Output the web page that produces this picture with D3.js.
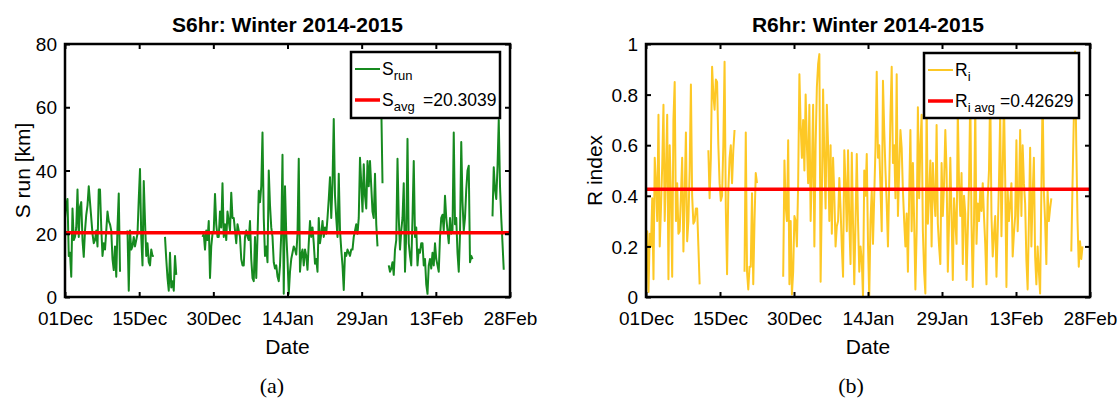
<!DOCTYPE html>
<html>
<head>
<meta charset="utf-8">
<script src="https://cdn.jsdelivr.net/npm/d3@7"></script>
<style>
  body { margin: 0; background: #fff; }
  svg { display: block; }
  text { font-family: "Liberation Sans", Arial, sans-serif; fill: #000; }
</style>
</head>
<body>
<svg id="fig" width="1118" height="399"></svg>
<script>
// Winter 2014-2015, 6-hourly samples starting 01 Dec 2014 00:00 (null = no data)
const seasonStart = Date.UTC(2014, 11, 1);
const seasonEnd = Date.UTC(2015, 1, 28);
const stepHours = 6;

const dateTickLabels = ["01Dec", "15Dec", "30Dec", "14Jan", "29Jan", "13Feb", "28Feb"];
const sRunTicks = [0, 20, 40, 60, 80];
const rIndexTicks = [0, 0.2, 0.4, 0.6, 0.8, 1];

const sRun = [
  25, 29, 31, 13, 14, 6.4, 28, 18, 19, 22,
  34, 19, 28.5, 30, 18, 12.7, 21, 26, 29, 35,
  30, 25, 20, 17, 18, 21, 16, 34, 34, 22,
  13, 17, 15, 21, 27, 24, 23, 21, 12, 8.5,
  16, 6.4, 22, 32.7, 8, null, null, null, null, null,
  21, 2, 21, 15, 16, 19, 16, 18, 20, 31,
  40.5, 19, 10, 36.7, 24, 13, 17, 11, 10, 15,
  13, 13, null, null, null, null, null, null, null, null,
  19, 12, 6, 2, 14, 3, 5, 2, 13, 7,
  null, null, null, null, null, null, null, null, null, null,
  null, null, null, null, null, null, null, null, null, null,
  19, 20, 15, 21, 18, 24, 6, 16, 20, 21,
  32.6, 23, 19, 19, 27, 22, 36, 19, 23, 18,
  27, 24, 21, 33, 25, 25, 21, 17, 23, 21,
  19, 12, 10, 10, 19, 21, 19, 18, 24, 12,
  6, 5, 19, 6, 19, 33.6, 30, 35, 52, 25,
  13, 16, 11, 40, 29, 22, 19, 11, 9, 10,
  6.5, 5, 10, 20, 45, 1, 35, 20, 12, 1,
  8, 12, 14, 16, 15, 13.4, 20, 43.7, 8, 13.4,
  15, 10, 15, 13, 8.6, 17, 24, 19, 22, 17,
  10.5, 12, 8, 25, 17, 20, 24, 19, 22, 20,
  25, 31, 37.9, 25, 36, 56.3, 32, 25, 19, 39,
  21, 15, 10, 2.2, 14, 13, 15, 14, 13, 15,
  15, 19, 21, 23, 20, 25, 44, 36, 27, 42,
  32, 28, 43, 35, 43, 35, 27, 25, 39, 23,
  16, null, null, 61, 36, null, null, null, null, 10,
  8, 9, 11, 7, 15, 18, 43.7, 25, 15, 21,
  25, 36, 8, 20, 50, 17, 13, 10, 25, 43,
  19, 22, 10, 15, 14, 17, 17, 10, 12, 4,
  1, 10, 12, 9, 14, 10, 17, 12, 10, 8,
  19, 25, 26, 21, 32, 25, 21, 17, 25, 20,
  21, 52, 23, 25, 14, 8, 20, 49, 30, 21,
  25, 34, 40, 41.5, 11, 13, 12, null, null, null,
  null, null, null, null, null, null, null, null, null, null,
  null, null, 25.5, 41, 34, 31, 41, 56, 35, 25,
  17, 8.6
];

const rIndex = [
  0.13, 0.26, 0.02, 0.25, 0.2, 0.39, 0.07, 0.55, 0.45, 0.3,
  0.72, 0.2, 0.35, 0.52, 0.76, 0.3, 0.5, 0.72, 0.07, 0.6,
  0.4, 0.08, 0.7, 0.85, 0.3, 0.45, 0.25, 0.26, 0.4, 0.55,
  0.18, 0.4, 0.65, 0.22, 0.3, 0.5, 0.84, 0.4, 0.29, 0.3,
  0.35, 0.35, 0.2, 0.05, null, null, null, null, null, null,
  0.58, 0.39, 0.55, 0.91, 0.8, 0.74, 0.86, 0.85, 0.6, 0.45,
  0.38, 0.4, 0.6, 0.93, 0.35, 0.09, 0.42, 0.55, 0.6, 0.45,
  0.58, 0.66, null, null, null, null, null, null, null, 0.1,
  0.65, 0.1, 0.03, 0.12, 0.12, 0.41, 0.05, 0.3, 0.49, 0.45,
  null, null, null, null, null, null, null, null, null, null,
  null, null, null, null, null, null, null, null, null, null,
  0.08, 0.54, 0.36, 0.3, 0.62, 0.05, 0.3, 0.01, 0.1, 0.32,
  0.3, 0.2, 0.45, 0.88, 0.68, 0.55, 0.7, 0.5, 0.8, 0.6,
  0.45, 0.76, 0.3, 0.5, 0.76, 0.2, 0.6, 0.83, 0.92, 0.96,
  0.06, 0.4, 0.82, 0.55, 0.35, 0.76, 0.6, 0.3, 0.6, 0.25,
  0.55, 0.4, 0.2, 0.28, 0.3, 0.47, 0.35, 0.2, 0.08, 0.58,
  0.45, 0.26, 0.58, 0.3, 0.13, 0.57, 0.29, 0.05, 0.3, 0.565,
  0.3, 0.1, 0.2, 0.145, 0, 0.5, 0.4, 0.565, 0.21, 0,
  0.3, 0.42, 0.21, 0.4, 0.59, 0.89, 0.55, 0.6, 0.43, 0.26,
  0.855, 0.66, 0.5, 0.37, 0.2, 0.45, 0.72, 0.91, 0.53, 0.6,
  0.39, 0.88, 0.32, 0.5, 0.66, 0.59, 0.42, 0.3, 0.2, 0.33,
  0.1, 0.4, 0.66, 0.26, 0.53, 0.3, 0.03, 0.26, 0.75, 0.39,
  0.6, 0.72, 0.26, 0.1, 0.014, 0.78, 0.29, 0.4, 0.54, 0.2,
  0.53, 0.4, 0.32, 0.68, 0.29, 0.2, 0.13, 0.53, 0.32, 0.45,
  0.66, 0.5, 0.1, 0.3, 0.55, 0.32, 0.067, 0.39, 0.3, 0.21,
  0.74, 0.45, 0.32, 0.49, 0.13, 0.4, 0.33, 0.067, 0.26, 0.45,
  0.8, 0.29, 0.04, 0.3, 0.76, 0.21, 0.37, 0.3, 0.42, 0.34,
  0.45, 0.32, 0.21, 0.05, 0.39, 0.5, 0.82, 0.32, 0.16, 0.25,
  0.32, 0.08, 0.26, 0.45, 0.72, 0.24, 0.5, 0.78, 0.47, 0.04,
  0.42, 0.3, 0.37, 0.45, 0.16, 0.25, 0.32, 0.62, 0.26, 0.4,
  0.66, 0.32, 0.6, 0.45, 0.37, 0.145, 0.03, 0.3, 0.59, 0.2,
  0.4, 0.55, 0.16, 0.05, 0.2, 0.1, 0.014, 0.42, 0.8, 0.42,
  0.3, 0.13, 0.42, 0.3, 0.35, 0.39, null, null, null, null,
  null, null, null, null, null, null, null, null, null, null,
  null, 0.18, 0.45, 0.7, 0.97, 0.6, 0.3, 0.12, 0.22, 0.15,
  0.2
];

const sAvg = 20.3039;
const rAvg = 0.42629;

const svg = d3.select("#fig");

// Seven evenly spaced date ticks across the season
const dateTicks = d3.range(7).map(i => new Date(seasonStart + i * (seasonEnd - seasonStart) / 6));

function drawPanel(cfg) {
  const { left, right, top, bottom } = cfg.box;
  const x = d3.scaleUtc().domain([new Date(seasonStart), new Date(seasonEnd)]).range([left, right]);
  const y = d3.scaleLinear().domain(cfg.yDomain).range([bottom, top]);
  const g = svg.append("g");

  const pts = cfg.values.map((v, i) => ({ t: new Date(seasonStart + i * stepHours * 3600e3), v }));

  // series line
  g.append("path")
    .datum(pts)
    .attr("fill", "none")
    .attr("stroke", cfg.color)
    .attr("stroke-width", 2)
    .attr("stroke-linejoin", "round")
    .attr("d", d3.line().defined(d => d.v != null).x(d => x(d.t)).y(d => y(d.v)));

  // seasonal average
  g.append("line")
    .attr("x1", left).attr("x2", right)
    .attr("y1", y(cfg.avg)).attr("y2", y(cfg.avg))
    .attr("stroke", "#ff0000").attr("stroke-width", 3.5);

  // axes with inward ticks on all four sides
  const fmtY = d3.format("~g");
  const axB = g.append("g").attr("transform", `translate(0,${bottom})`)
    .call(d3.axisBottom(x).tickValues(dateTicks).tickSizeInner(-5).tickSizeOuter(0).tickPadding(11)
      .tickFormat((d, i) => dateTickLabels[i]));
  const axT = g.append("g").attr("transform", `translate(0,${top})`)
    .call(d3.axisTop(x).tickValues(dateTicks).tickSizeInner(-5).tickSizeOuter(0).tickFormat(""));
  const axL = g.append("g").attr("transform", `translate(${left},0)`)
    .call(d3.axisLeft(y).tickValues(cfg.yTicks).tickSizeInner(-5).tickSizeOuter(0).tickPadding(8).tickFormat(fmtY));
  const axR = g.append("g").attr("transform", `translate(${right},0)`)
    .call(d3.axisRight(y).tickValues(cfg.yTicks).tickSizeInner(-5).tickSizeOuter(0).tickFormat(""));
  [axB, axT, axL, axR].forEach(a => {
    a.select(".domain").remove();
    a.selectAll(".tick line").attr("stroke", "#000").attr("stroke-width", 2);
    a.selectAll("text").attr("font-size", 19).attr("font-family", null).attr("fill", "#000");
  });
  axB.selectAll(".tick text").attr("dy", "0.9em");
  axL.selectAll(".tick text").attr("dy", "0.35em");

  g.append("rect")
    .attr("x", left).attr("y", top)
    .attr("width", right - left).attr("height", bottom - top)
    .attr("fill", "none").attr("stroke", "#000").attr("stroke-width", 2.5);

  // title and axis labels
  const cx = (left + right) / 2;
  g.append("text").attr("x", cx).attr("y", 32).attr("text-anchor", "middle")
    .attr("font-size", 21).attr("font-weight", "bold").text(cfg.title);
  g.append("text").attr("x", cx).attr("y", 354).attr("text-anchor", "middle")
    .attr("font-size", 21).text("Date");
  g.append("text")
    .attr("transform", `translate(${cfg.yLabelX},${(top + bottom) / 2}) rotate(-90)`)
    .attr("text-anchor", "middle").attr("font-size", 21).text(cfg.yLabel);

  // sub-figure caption
  g.append("text").attr("x", cfg.captionX).attr("y", 393).attr("text-anchor", "middle")
    .attr("font-size", 22).style("font-family", "'Liberation Serif', 'Times New Roman', serif")
    .text(cfg.caption);

  // legend
  const L = cfg.legend;
  const lg = g.append("g");
  lg.append("rect").attr("x", L.x).attr("y", L.y).attr("width", L.w).attr("height", L.h)
    .attr("fill", "#fff").attr("stroke", "#000").attr("stroke-width", 2.5);
  const rows = [
    { color: cfg.color, width: 2, main: cfg.legendMain, sub: cfg.legendSub1, tail: "", y: L.y + 17 },
    { color: "#ff0000", width: 3.5, main: cfg.legendMain, sub: cfg.legendSub2, tail: cfg.legendTail, y: L.y + 48 }
  ];
  rows.forEach(r => {
    lg.append("line").attr("x1", L.x + 4).attr("x2", L.x + 29).attr("y1", r.y).attr("y2", r.y)
      .attr("stroke", r.color).attr("stroke-width", r.width);
    const t = lg.append("text").attr("x", L.x + 31).attr("y", r.y + 6).attr("font-size", 17.5);
    t.append("tspan").text(r.main);
    t.append("tspan").attr("dy", 5).attr("font-size", 13).text(r.sub);
    if (r.tail) {
      lg.append("text").attr("x", L.x + L.tailX).attr("y", r.y + 6)
        .attr("font-size", 17.5).text(r.tail);
    }
  });
}

drawPanel({
  box: { left: 65, right: 510, top: 44, bottom: 297 },
  yDomain: [0, 80], yTicks: sRunTicks, values: sRun, avg: sAvg,
  color: "#168a1f", title: "S6hr: Winter 2014-2015", yLabel: "S run [km]", yLabelX: 30,
  caption: "(a)", captionX: 272,
  legend: { x: 351, y: 52, w: 149, h: 66, tailX: 72 },
  legendMain: "S", legendSub1: "run", legendSub2: "avg", legendTail: "=20.3039"
});

drawPanel({
  box: { left: 646, right: 1090, top: 44, bottom: 297 },
  yDomain: [0, 1], yTicks: rIndexTicks, values: rIndex, avg: rAvg,
  color: "#fdc825", title: "R6hr: Winter 2014-2015", yLabel: "R index", yLabelX: 602,
  caption: "(b)", captionX: 851,
  legend: { x: 924, y: 53, w: 155, h: 65, tailX: 76 },
  legendMain: "R", legendSub1: "i", legendSub2: "i avg", legendTail: "=0.42629"
});
</script>
</body>
</html>
